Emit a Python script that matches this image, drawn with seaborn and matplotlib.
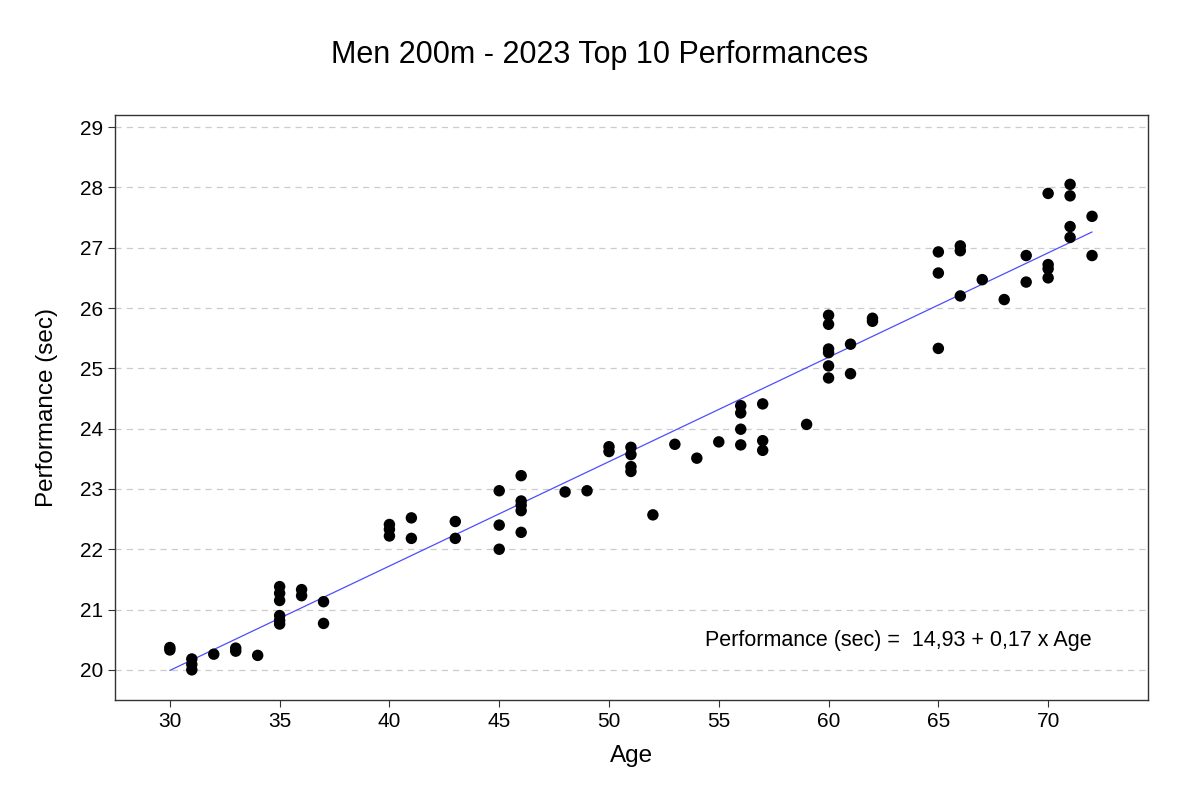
import numpy as np
import pandas as pd
import matplotlib
matplotlib.use("Agg")
import matplotlib.pyplot as plt
import seaborn as sns

ages = [30, 30, 31, 31, 31, 32, 33, 33, 34,
        35, 35, 35, 35, 35, 35, 36, 36, 37, 37,
        40, 40, 40, 41, 41, 43, 43, 45, 45, 45,
        46, 46, 46, 46, 46, 48, 49, 50, 50,
        51, 51, 51, 51, 52, 53, 54, 55,
        56, 56, 56, 56, 57, 57, 57, 59,
        60, 60, 60, 60, 60, 60, 61, 61, 62, 62,
        65, 65, 65, 66, 66, 66, 67, 68, 69, 69,
        70, 70, 70, 70, 71, 71, 71, 71, 72, 72]
performance = [20.33, 20.37, 20.18, 20.09, 20.00, 20.26, 20.36, 20.31, 20.24,
               21.38, 21.27, 21.15, 20.90, 20.82, 20.76, 21.33, 21.23, 21.13, 20.77,
               22.41, 22.33, 22.22, 22.52, 22.18, 22.46, 22.18, 22.97, 22.40, 22.00,
               23.22, 22.80, 22.73, 22.64, 22.28, 22.95, 22.97, 23.70, 23.62,
               23.69, 23.57, 23.37, 23.29, 22.57, 23.74, 23.51, 23.78,
               24.38, 24.26, 23.99, 23.73, 24.41, 23.80, 23.64, 24.07,
               25.88, 25.73, 25.32, 25.26, 25.04, 24.84, 25.40, 24.91, 25.83, 25.78,
               26.93, 26.58, 25.33, 27.03, 26.95, 26.20, 26.47, 26.14, 26.87, 26.43,
               27.90, 26.72, 26.65, 26.50, 28.05, 27.86, 27.35, 27.17, 27.52, 26.87]

x_ticks = [30, 35, 40, 45, 50, 55, 60, 65, 70]
y_ticks = [20, 21, 22, 23, 24, 25, 26, 27, 28, 29]
title = "Men 200m - 2023 Top 10 Performances"
equation = "Performance (sec) =  14,93 + 0,17 x Age"

df = pd.DataFrame({"Age": ages, "Performance (sec)": performance})

sns.set_theme(style="white")
plt.rcParams['font.family'] = ['Liberation Sans', 'DejaVu Sans']

fig = plt.figure(figsize=(12, 7.96), dpi=100)
ax = fig.add_axes([0.0958, 0.1206, 0.8609, 0.7349])

sns.regplot(data=df, x="Age", y="Performance (sec)", ax=ax, ci=None,
            scatter_kws=dict(s=68, color="black", edgecolor="none", alpha=1, zorder=3),
            line_kws=dict(color="#4d4dff", lw=0.9, zorder=2))

ax.set_xlim(27.5, 74.55)
ax.set_ylim(19.5, 29.2)
ax.set_xticks(x_ticks)
ax.set_yticks(y_ticks)
ax.yaxis.grid(True, linestyle=(0, (5, 4)), color="#cccccc", lw=0.9)
ax.xaxis.grid(False)
ax.set_axisbelow(True)
for sp in ax.spines.values():
    sp.set_color("#333333")
    sp.set_linewidth(1.0)
ax.tick_params(axis="both", which="major", direction="out", length=5, width=0.8,
               color="#333333", labelsize=15, labelcolor="black", bottom=True, left=True)
ax.set_xlabel("Age", fontsize=17.5, color="black", labelpad=10)
ax.set_ylabel("Performance (sec)", fontsize=17.5, color="black", labelpad=16)

ax.text(63.17, 20.48, equation, ha="center", va="center", fontsize=15.5, color="black")
fig.suptitle(title, y=0.95, fontsize=22, color="black")

fig.savefig("out.png", dpi=100)
